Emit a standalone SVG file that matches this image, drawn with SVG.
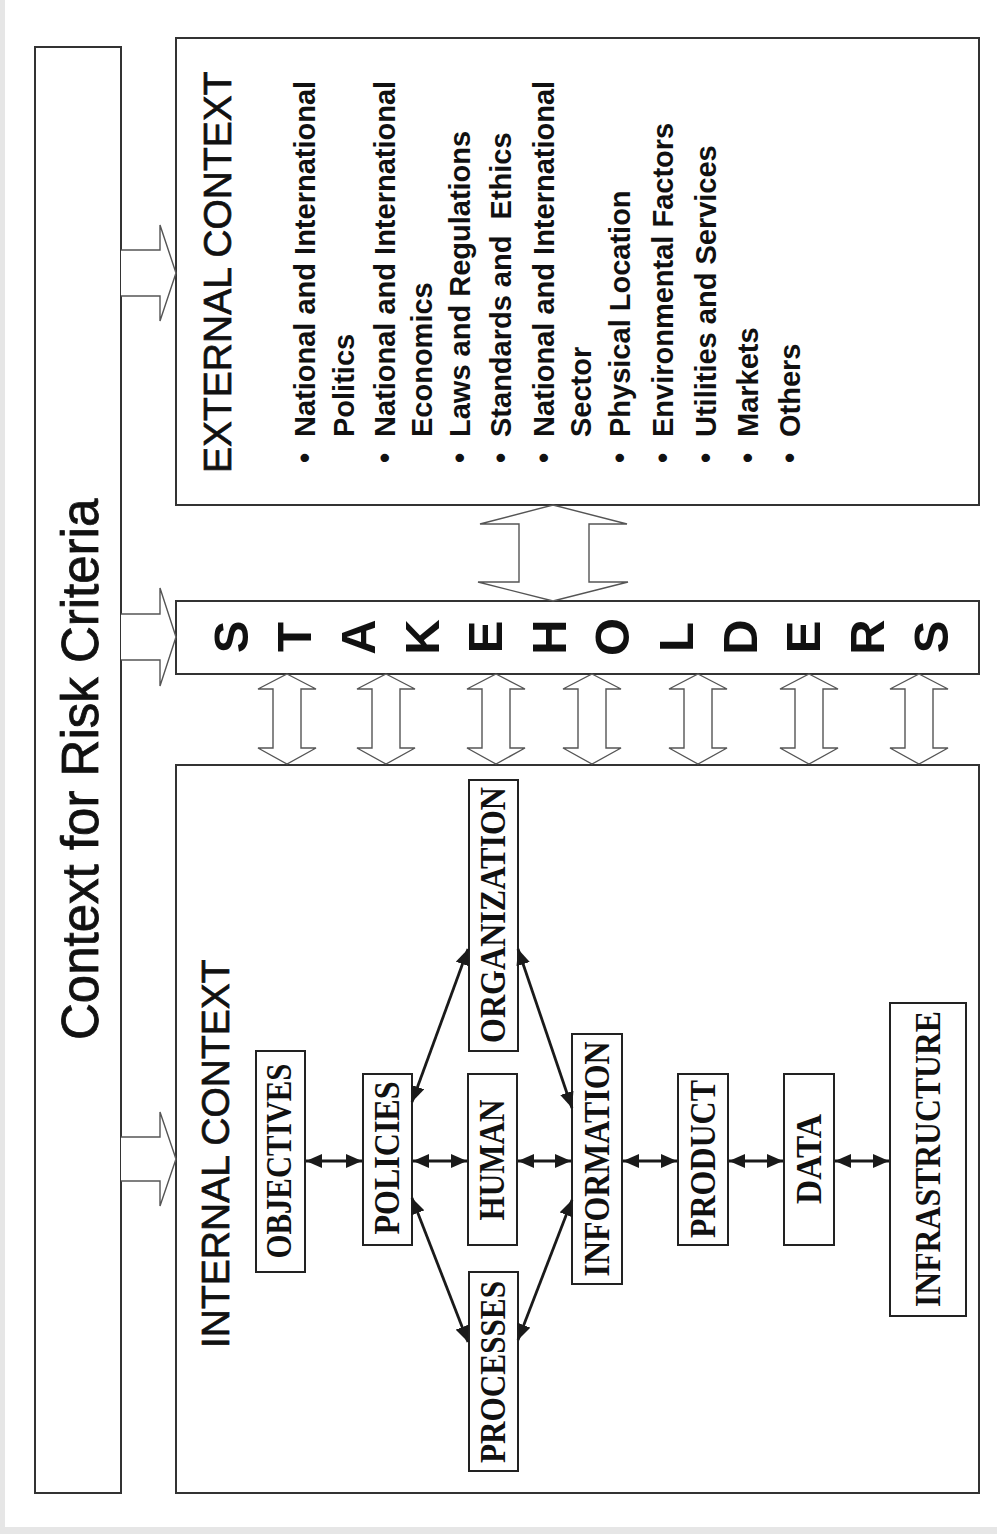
<svg xmlns="http://www.w3.org/2000/svg" width="997" height="1534" viewBox="0 0 997 1534">
  <style>
    .box { fill: #ffffff; stroke: #333333; stroke-width: 2; }
    .node { fill: #ffffff; stroke: #222222; stroke-width: 2; }
    .blk { fill: #ffffff; stroke: #555555; stroke-width: 1.4; stroke-linejoin: miter; }
    .con { stroke: #1a1a1a; stroke-width: 2.8; fill: none; marker-start: url(#ah); marker-end: url(#ah); }
    .sans { font-family: "Liberation Sans", Arial, sans-serif; fill: #111111; }
    .serif { font-family: "Liberation Serif", "Times New Roman", serif; font-weight: bold; font-size: 35px; fill: #111111; text-anchor: middle; }
    .head { font-size: 39px; stroke: #111111; stroke-width: 0.7; }
    .title { font-size: 51px; stroke: #111111; stroke-width: 0.8; }
    .item { font-size: 29px; font-weight: bold; }
    .stk { font-size: 49px; font-weight: bold; text-anchor: middle; }
  </style>
  <defs>
    <marker id="ah" viewBox="0 0 16 14" refX="16" refY="7" markerWidth="16" markerHeight="14" markerUnits="userSpaceOnUse" orient="auto-start-reverse">
      <path d="M0,0 L16,7 L0,14 Z" fill="#1a1a1a"/>
    </marker>
  </defs>

  <!-- background -->
  <rect x="0" y="0" width="997" height="1534" fill="#e6e6e6"/>
  <rect x="5" y="0" width="992" height="1527" fill="#ffffff"/>

  <!-- outer context box -->
  <g id="context">
    <rect class="box" x="35" y="47" width="86" height="1446"/>
    <text class="sans title" transform="translate(98,1040) rotate(-90)">Context for Risk Criteria</text>
  </g>

  <!-- external context -->
  <g id="external">
    <rect class="box" x="176" y="38" width="803" height="467"/>
    <text class="sans head" transform="translate(231,473) rotate(-90)">EXTERNAL CONTEXT</text>
    <g class="sans item">
      <text transform="translate(315,458) rotate(-90)" text-anchor="middle">•</text>
      <text transform="translate(315,437) rotate(-90)">National and International</text>
      <text transform="translate(354,437) rotate(-90)">Politics</text>
      <text transform="translate(395,458) rotate(-90)" text-anchor="middle">•</text>
      <text transform="translate(395,437) rotate(-90)">National and International</text>
      <text transform="translate(432,437) rotate(-90)">Economics</text>
      <text transform="translate(470,458) rotate(-90)" text-anchor="middle">•</text>
      <text transform="translate(470,437) rotate(-90)">Laws and Regulations</text>
      <text transform="translate(511,458) rotate(-90)" text-anchor="middle">•</text>
      <text transform="translate(511,437) rotate(-90)" xml:space="preserve">Standards and  Ethics</text>
      <text transform="translate(554,458) rotate(-90)" text-anchor="middle">•</text>
      <text transform="translate(554,437) rotate(-90)">National and International</text>
      <text transform="translate(591,437) rotate(-90)">Sector</text>
      <text transform="translate(630,458) rotate(-90)" text-anchor="middle">•</text>
      <text transform="translate(630,437) rotate(-90)">Physical Location</text>
      <text transform="translate(673,458) rotate(-90)" text-anchor="middle">•</text>
      <text transform="translate(673,437) rotate(-90)">Environmental Factors</text>
      <text transform="translate(716,458) rotate(-90)" text-anchor="middle">•</text>
      <text transform="translate(716,437) rotate(-90)">Utilities and Services</text>
      <text transform="translate(758,458) rotate(-90)" text-anchor="middle">•</text>
      <text transform="translate(758,437) rotate(-90)">Markets</text>
      <text transform="translate(800,458) rotate(-90)" text-anchor="middle">•</text>
      <text transform="translate(800,437) rotate(-90)">Others</text>
    </g>
  </g>

  <!-- stakeholders -->
  <g id="stakeholders">
    <rect class="box" x="176" y="601" width="803" height="73"/>
    <g class="sans stk">
      <text transform="translate(248,637) rotate(-90)">S</text>
      <text transform="translate(311,637) rotate(-90)">T</text>
      <text transform="translate(375,637) rotate(-90)">A</text>
      <text transform="translate(439,637) rotate(-90)">K</text>
      <text transform="translate(502,637) rotate(-90)">E</text>
      <text transform="translate(566,637) rotate(-90)">H</text>
      <text transform="translate(629,637) rotate(-90)">O</text>
      <text transform="translate(693,637) rotate(-90)">L</text>
      <text transform="translate(757,637) rotate(-90)">D</text>
      <text transform="translate(820,637) rotate(-90)">E</text>
      <text transform="translate(884,637) rotate(-90)">R</text>
      <text transform="translate(948,637) rotate(-90)">S</text>
    </g>
  </g>

  <!-- internal context -->
  <g id="internal">
    <rect class="box" x="176" y="765" width="803" height="728"/>
    <text class="sans head" transform="translate(229,1348) rotate(-90)">INTERNAL CONTEXT</text>
  </g>

  <g id="objectives">
    <rect class="node" x="256" y="1051" width="49" height="221"/>
    <text class="serif" transform="translate(291,1161) rotate(-90)" textLength="195" lengthAdjust="spacingAndGlyphs">OBJECTIVES</text>
  </g>
  <g id="policies">
    <rect class="node" x="363" y="1074" width="49" height="171"/>
    <text class="serif" transform="translate(399,1158) rotate(-90)" textLength="153" lengthAdjust="spacingAndGlyphs">POLICIES</text>
  </g>
  <g id="human">
    <rect class="node" x="468" y="1074" width="49" height="171"/>
    <text class="serif" transform="translate(504,1160) rotate(-90)" textLength="121" lengthAdjust="spacingAndGlyphs">HUMAN</text>
  </g>
  <g id="organization">
    <rect class="node" x="469" y="780" width="49" height="271"/>
    <text class="serif" transform="translate(505,915) rotate(-90)" textLength="256" lengthAdjust="spacingAndGlyphs">ORGANIZATION</text>
  </g>
  <g id="processes">
    <rect class="node" x="469" y="1272" width="49" height="199"/>
    <text class="serif" transform="translate(505,1372) rotate(-90)" textLength="182" lengthAdjust="spacingAndGlyphs">PROCESSES</text>
  </g>
  <g id="information">
    <rect class="node" x="572" y="1034" width="50" height="250"/>
    <text class="serif" transform="translate(609,1159) rotate(-90)" textLength="235" lengthAdjust="spacingAndGlyphs">INFORMATION</text>
  </g>
  <g id="product">
    <rect class="node" x="678" y="1074" width="50" height="171"/>
    <text class="serif" transform="translate(715,1159) rotate(-90)" textLength="158" lengthAdjust="spacingAndGlyphs">PRODUCT</text>
  </g>
  <g id="data">
    <rect class="node" x="784" y="1074" width="50" height="171"/>
    <text class="serif" transform="translate(821,1159) rotate(-90)" textLength="90" lengthAdjust="spacingAndGlyphs">DATA</text>
  </g>
  <g id="infrastructure">
    <rect class="node" x="890" y="1003" width="76" height="313"/>
    <text class="serif" transform="translate(940,1159) rotate(-90)" textLength="296" lengthAdjust="spacingAndGlyphs">INFRASTRUCTURE</text>
  </g>

  <!-- connectors -->
  <g id="connectors">
    <!-- block arrows from context -->
    <path class="blk" d="M121,250 L160,250 L160,225 L176,273 L160,321 L160,296 L121,296"/>
    <path class="blk" d="M121,614 L160,614 L160,588 L176,637 L160,686 L160,660 L121,660"/>
    <path class="blk" d="M121,1137 L160,1137 L160,1112 L176,1159 L160,1206 L160,1181 L121,1181"/>
    <!-- external <-> stakeholders -->
    <path class="blk" d="M553,505 L627,524 L589,524 L589,582 L628,582 L553,601 L478,582 L519,582 L519,524 L480,524 Z"/>
    <!-- stakeholders <-> internal -->
    <path class="blk" d="M287,674 L316,689 L301,689 L301,748 L316,748 L287,764 L258,748 L273,748 L273,689 L258,689 Z"/>
    <path class="blk" d="M386,674 L415,689 L400,689 L400,748 L415,748 L386,764 L357,748 L372,748 L372,689 L357,689 Z"/>
    <path class="blk" d="M496,674 L525,689 L510,689 L510,748 L525,748 L496,764 L467,748 L482,748 L482,689 L467,689 Z"/>
    <path class="blk" d="M592,674 L621,689 L606,689 L606,748 L621,748 L592,764 L563,748 L578,748 L578,689 L563,689 Z"/>
    <path class="blk" d="M698,674 L727,689 L712,689 L712,748 L727,748 L698,764 L669,748 L684,748 L684,689 L669,689 Z"/>
    <path class="blk" d="M809,674 L838,689 L823,689 L823,748 L838,748 L809,764 L780,748 L795,748 L795,689 L780,689 Z"/>
    <path class="blk" d="M919,674 L948,689 L933,689 L933,748 L948,748 L919,764 L890,748 L905,748 L905,689 L890,689 Z"/>
    <!-- internal connectors -->
    <line class="con" x1="306" y1="1161" x2="362" y2="1161"/>
    <line class="con" x1="413" y1="1161" x2="467" y2="1161"/>
    <line class="con" x1="518" y1="1161" x2="571" y2="1161"/>
    <line class="con" x1="623" y1="1161" x2="677" y2="1161"/>
    <line class="con" x1="729" y1="1161" x2="783" y2="1161"/>
    <line class="con" x1="835" y1="1161" x2="889" y2="1161"/>
    <line class="con" x1="412" y1="1102" x2="468" y2="949"/>
    <line class="con" x1="518" y1="949" x2="572" y2="1108"/>
    <line class="con" x1="412" y1="1198" x2="468" y2="1342"/>
    <line class="con" x1="518" y1="1340" x2="572" y2="1200"/>
  </g>
</svg>
